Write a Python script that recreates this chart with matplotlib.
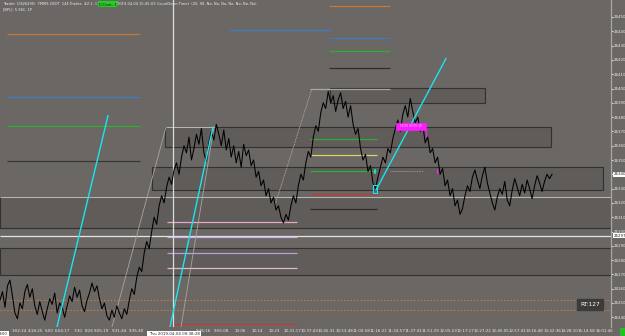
import numpy as np
import matplotlib
matplotlib.use("Agg")
import matplotlib.pyplot as plt
from matplotlib.patches import Rectangle
from matplotlib.transforms import blended_transform_factory

# ---------------- data ----------------
price = [
    # early session chop
    26252, 26258, 26247, 26262, 26266, 26255, 26243, 26239, 26250, 26246,
    26258, 26263, 26254, 26260, 26248, 26242, 26251, 26244, 26238, 26246,
    26253, 26249, 26257, 26243, 26250, 26247, 26240, 26248, 26255, 26251,
    26261, 26254, 26259, 26248, 26244, 26252, 26257, 26264, 26258, 26262,
    26253, 26246, 26250, 26241, 26238, 26245, 26240, 26248, 26243, 26239,
    26246, 26242,
    # open rally
    26252, 26260, 26256, 26268, 26275, 26272, 26285, 26293, 26288, 26300,
    26310, 26305, 26318, 26325, 26320, 26331, 26338, 26333, 26343,
    # first plateau
    26348, 26340, 26352, 26360, 26355, 26366, 26350, 26358, 26368, 26361,
    26372, 26355, 26349, 26362, 26370, 26364, 26375, 26368, 26360, 26371,
    26357, 26365, 26352, 26360, 26348, 26356, 26345, 26361, 26353, 26357,
    # pullback
    26346, 26350, 26338, 26342, 26332, 26336, 26325, 26330, 26320, 26324,
    26315, 26318, 26310, 26306, 26312,
    # rally to high
    26308, 26318, 26325, 26320, 26332, 26340, 26336, 26348, 26356, 26352,
    26366, 26374, 26370, 26383, 26390, 26386, 26398,
    # top
    26390, 26395, 26384, 26392, 26397, 26386, 26391, 26380, 26388,
    # drop
    26375, 26368, 26372, 26358, 26350, 26354, 26342, 26346, 26334, 26330,
    # second rally
    26338, 26345, 26352, 26348, 26358, 26355, 26365, 26372, 26378, 26370,
    26382, 26388, 26380, 26393,
    # afternoon decline
    26384, 26376, 26380, 26370, 26375, 26362, 26366, 26355, 26358, 26348,
    26352, 26340, 26344, 26332, 26336, 26325, 26330, 26318, 26322, 26312,
    26316,
    # afternoon range
    26325, 26332, 26328, 26338, 26343, 26336, 26330, 26339, 26345, 26334,
    26327, 26320, 26315, 26324, 26330, 26326, 26335, 26322, 26318, 26329,
    26337, 26331, 26325, 26333, 26327, 26336, 26330, 26323, 26332, 26339,
    26334, 26328, 26335, 26340, 26337, 26340,
]

y_ticks = list(range(26240, 26451, 10))
last_price = 26340
ref_price = 26297

time_labels = ["3:02:24", "4:18:25", "5:00", "6:04:17", "7:30", "8:26", "9:05:19",
               "9:31:44", "9:35:40", "9:46:16", "9:55:08",
               "10:06", "10:14", "10:23", "10:31:17", "10:37:43", "10:45:31",
               "10:53:48", "11:00:58", "11:16:21", "11:24:57", "11:37:41",
               "11:51:29", "12:05:23", "12:17:17", "12:27:22", "12:40:05",
               "12:57:41", "13:16:48", "13:42:36", "14:28:10", "15:14:58",
               "16:01:46"]
cursor_label = "Thu 2019-04-04 09:38:28"

# horizontal level lines (price)
level_prices = [26438, 26394, 26374, 26349,            # left group
                26441,                                # mid-top blue
                26458, 26435, 26426, 26414, 26400,    # right-top group
                26365, 26353.5, 26342, 26326, 26316,  # middle group
                26306.5, 26296, 26285, 26274.5, 26235.5]  # lower group
# zones (top, bottom)
zone_tops = [26400, 26373, 26345, 26324, 26288.5]
zone_bottoms = [26390, 26359, 26329, 26302.5, 26269.5]
dotted_levels = [26252, 26245]

rt_text = "RT:127"
header_a = "Trader: 1(826295)  YMM9-CBOT  144 Trades  #2 1: 17"
header_b = "[COunt: 3]"
header_c = "2019-04-04 15:45:03 CountDown Timer  (20, 90, No, No, No, No, No, No, No)"
header_2 = "[BPL]: 5.96C, 1P"

# ---------------- layout / style ----------------
BG = "#6a6764"
W, H = 625, 336
PLOT_R, PLOT_B = 611, 327

def py(ypx):  # pixel row -> price (axis scale helper)
    return 26450 - (ypx - 17) / 1.43

YMAX, YMIN = py(0), py(PLOT_B)

level_x = [(7, 140)] * 4 + [(229, 331)] + [(329, 390)] * 4 + [(310, 390)] + \
          [(310, 377)] * 5 + [(167, 297)] * 5
level_col = ["#c8783a", "#3b7cc4", "#2fae2f", "#3a3836",
             "#3b7cc4",
             "#c8783a", "#3b7cc4", "#2fae2f", "#2e2c2a", "#a9a6a2",
             "#2fae2f", "#d9d36a", "#2fae2f", "#c03a3a", "#2e2c2a",
             "#e7a9c8", "#c6aee6", "#b9a3dc", "#e2b8cf", "#c03a3a"]
zone_x = [(330, 485), (165, 551), (152, 603), (0, PLOT_R), (0, PLOT_R)]

fig = plt.figure(figsize=(W / 100, H / 100), dpi=100, facecolor=BG)
ax = fig.add_axes([0, (H - PLOT_B) / H, PLOT_R / W, PLOT_B / H], facecolor=BG)
ax.set_xlim(0, PLOT_R)
ax.set_ylim(YMIN, YMAX)
for s in ["top", "left", "bottom"]:
    ax.spines[s].set_visible(False)
ax.spines["right"].set_color("#aaa7a3")
ax.spines["right"].set_linewidth(0.9)

# zones
for (x0, x1), t, b in zip(zone_x, zone_tops, zone_bottoms):
    ax.add_patch(Rectangle((x0, b), x1 - x0, t - b, facecolor="#5f5c59",
                           edgecolor="#33312f", lw=0.8, zorder=1))
ax.hlines(zone_tops[3], 0, PLOT_R, color="#b9b6b2", lw=0.8, zorder=1.5)
ax.hlines(ref_price, 0, PLOT_R, color="#e4e4e4", lw=0.9, zorder=1.5)
ax.hlines(zone_tops[1], 166, 215, color="#b9b6b2", lw=0.8, zorder=1.5)

for lv in dotted_levels:
    ax.hlines(lv, 0, PLOT_R, color="#c8783a", lw=0.8, ls=(0, (1.5, 1.5)), zorder=1.5)

for p, (x0, x1), c in zip(level_prices, level_x, level_col):
    ax.hlines(p, x0, x1, color=c, lw=0.9, zorder=2)

# faint dotted line
ax.hlines(26342, 390, 423, color="#a9a6a2", lw=0.6, ls=(0, (1, 1)), zorder=2)

# gray diagonals
ax.plot([112, 166], [YMIN, 26373], color="#a9a6a2", lw=0.6, zorder=2)
ax.plot([181, 214], [YMIN, 26373], color="#a9a6a2", lw=0.6, zorder=2)
ax.plot([275, 312], [26318.5, 26400], color="#a9a6a2", lw=0.6, ls=(0, (2, 1)), zorder=2)

# cursor line
ax.axvline(173, color="#dcdcdc", lw=0.9, zorder=2.5)

# price
xs = np.linspace(0, 552, len(price))
ax.plot(xs, price, color="black", lw=0.75, zorder=3)

# cyan trend lines
ax.plot([57, 108], [YMIN, 26381], color="#19e6f0", lw=1.0, zorder=4)
ax.plot([170, 213], [YMIN, 26373], color="#19e6f0", lw=1.0, zorder=4)
ax.plot([376, 446], [26329, 26421], color="#19e6f0", lw=1.0, zorder=4)
ax.add_patch(Rectangle((373, 26327), 4, 5.5, facecolor="none",
                       edgecolor="#19e6f0", lw=0.8, zorder=4))
ax.plot([375, 375], [26341, 26343], color="#19e6f0", lw=1.2, zorder=4)

# magenta marker
ax.add_patch(Rectangle((396, 26371), 30, 5, facecolor="#ff1aff",
                       edgecolor="#ff1aff", lw=0.5, zorder=4))
ax.text(411, 26373.5, "26378 (30.0% 19)", fontsize=1.8, color="#f8d8f8",
        ha="center", va="center", zorder=5)
ax.plot([426, 426], [26367, 26371], color="#ff1aff", lw=0.9, zorder=4)
ax.plot([437, 437], [26341, 26344], color="#ff1aff", lw=0.9, zorder=4)

# RT box
ax.add_patch(Rectangle((577, 26245), 26, 8, facecolor="#3d3b39",
                       edgecolor="#3d3b39", zorder=5))
ax.text(590, 26249, rt_text, fontsize=4.2, color="white", ha="center",
        va="center", zorder=6)

# y axis on right
ax.yaxis.tick_right()
ax.set_yticks(y_ticks, [str(v) for v in y_ticks])
ax.tick_params(axis="y", length=1.2, width=0.8, color="#e0e0e0",
               labelsize=2.9, labelcolor="#ececec", pad=0.8)
tr = blended_transform_factory(ax.transAxes, ax.transData)
for v in (last_price, ref_price):
    ax.text(1.004, v, str(v), transform=tr, fontsize=2.9, color="#222222",
            ha="left", va="center", clip_on=False, zorder=7,
            bbox=dict(boxstyle="square,pad=0.15", fc="white", ec="none"))

# x axis labels
xpos = [19, 35, 49, 62, 78, 89, 101, 119, 136, 203, 221] + \
       list(np.linspace(240, 604, 22))
ax.set_xticks(xpos, time_labels)
ax.tick_params(axis="x", length=0, labelsize=2.9, labelcolor="#ececec", pad=1.6)
ax.text(174, -0.016, cursor_label, transform=blended_transform_factory(ax.transData, ax.transAxes),
        fontsize=2.9, color="#222222", ha="center", va="top", clip_on=False, zorder=7,
        bbox=dict(boxstyle="square,pad=0.3", fc="white", ec="none"))
ax.text(3, -0.016, "3:00", transform=blended_transform_factory(ax.transData, ax.transAxes),
        fontsize=2.9, color="#222222", ha="center", va="top", clip_on=False, zorder=7,
        bbox=dict(boxstyle="square,pad=0.3", fc="white", ec="none"))
fig.patches.append(Rectangle((620 / W, 0), 5 / W, 8 / H, transform=fig.transFigure,
                             facecolor="#22c022", edgecolor="none"))

# header
fig.text(3 / W, 1 - 4 / H, header_a, fontsize=2.6, color="#eeeeee", va="center")
fig.text(99 / W, 1 - 4 / H, header_b, fontsize=2.6, color="#1a1a1a", va="center",
         bbox=dict(boxstyle="square,pad=0.15", fc="#22d022", ec="none"))
fig.text(117 / W, 1 - 4 / H, header_c, fontsize=2.6, color="#eeeeee", va="center")
fig.text(3 / W, 1 - 9 / H, header_2, fontsize=2.6, color="#eeeeee", va="center")

fig.savefig("out.png", dpi=100, facecolor=BG)
